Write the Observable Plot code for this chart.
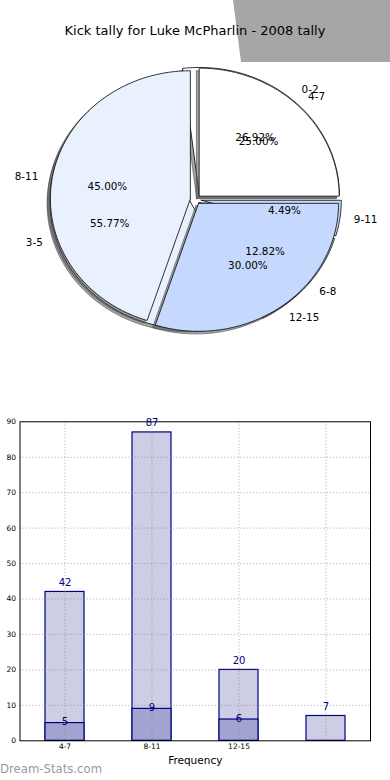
<!DOCTYPE html>
<html><head><meta charset="utf-8">
<script src="https://cdn.jsdelivr.net/npm/d3@7"></script>
<script src="https://cdn.jsdelivr.net/npm/@observablehq/plot@0.6"></script>
<style>
html,body{margin:0;padding:0;background:#fff;}
#root{position:relative;width:390px;height:780px;overflow:hidden;font-family:"DejaVu Sans",sans-serif;}
#banner{position:absolute;left:0;top:0;width:390px;height:62px;background:#a6a6a6;clip-path:polygon(233px 0,390px 0,390px 62px,241px 62px);}
#title{position:absolute;left:0;top:22.5px;width:390px;text-align:center;font-size:13px;line-height:15px;color:#000;}
#pie{position:absolute;left:0;top:0;}
#bars{position:absolute;left:0;top:400px;}
#wm{position:absolute;left:0;top:761px;font-size:11.7px;line-height:16px;color:#9a9a9a;}
</style>
</head><body>
<div id="root">
  <div id="banner"></div>
  <div id="pie"></div>
  <div id="title">Kick tally for Luke McPharlin - 2008 tally</div>
  <div id="bars"></div>
  <div id="wm">Dream-Stats.com</div>
</div>
<script>
// ---- data ----
const title = "Kick tally for Luke McPharlin - 2008 tally";
const pieALabels = ["0-2", "3-5", "6-8", "9-11"];
const kicksAll = [42, 87, 20, 7];
const pieBLabels = ["4-7", "8-11", "12-15"];
const kicksSub = [5, 9, 6];
const barTickLabels = ["4-7", "8-11", "12-15"];
const yTicks = [0, 10, 20, 30, 40, 50, 60, 70, 80, 90];

// ---- styles ----
const wedgeColors = ["#ffffff", "#eaf1fe", "#c5d8fd", "#c5d8fd"];
const explodeA = 0.042, explodeB = 0.037;
const font = {fontFamily: "DejaVu Sans", fontSize: 10.4, fill: "#000"};

function wedges(labels, values, explode) {
  const total = d3.sum(values);
  let start = 0;
  return labels.map((label, i) => {
    const a0 = start, a1 = start + 360 * values[i] / total;
    start = a1;
    const mid = (a0 + a1) / 2 * Math.PI / 180;
    const cx = explode * Math.cos(mid), cy = explode * Math.sin(mid);
    const pts = [{x: cx, y: cy}];
    const n = Math.max(2, Math.ceil(a1 - a0));
    for (let k = 0; k <= n; k++) {
      const a = (a0 + (a1 - a0) * k / n) * Math.PI / 180;
      pts.push({x: cx + Math.cos(a), y: cy + Math.sin(a)});
    }
    pts.push({x: cx, y: cy});
    return {label, value: values[i], pct: values[i] / total, pts, cx, cy, mid, fill: wedgeColors[i % wedgeColors.length]};
  });
}

const wA = wedges(pieALabels, kicksAll, explodeA);
const wB = wedges(pieBLabels, kicksSub, explodeB);

function pieMarks(ws) {
  return [
    ...ws.map(w => Plot.line(w.pts, {x: d => d.x - 0.02, y: d => d.y - 0.02, fill: "#4d4d4d", fillOpacity: 0.5, stroke: "#4d4d4d", strokeOpacity: 0.6, strokeWidth: 1})),
    ...ws.map(w => Plot.line(w.pts, {x: "x", y: "y", fill: w.fill, stroke: "#000", strokeWidth: 0.8, strokeLinejoin: "miter"}))
  ];
}
function labelMarks(ws) {
  const lab = ws.map(w => ({text: w.label, x: w.cx + 1.1 * Math.cos(w.mid), y: w.cy + 1.1 * Math.sin(w.mid), right: Math.cos(w.mid) > 0}));
  const pct = ws.map(w => ({text: (w.pct * 100).toFixed(2) + "%", x: w.cx + 0.6 * Math.cos(w.mid), y: w.cy + 0.6 * Math.sin(w.mid)}));
  return [
    Plot.text(lab.filter(d => d.right), {x: "x", y: "y", text: "text", textAnchor: "start", lineAnchor: "middle", ...font}),
    Plot.text(lab.filter(d => !d.right), {x: "x", y: "y", text: "text", textAnchor: "end", lineAnchor: "middle", ...font}),
    Plot.text(pct, {x: "x", y: "y", text: "text", textAnchor: "middle", lineAnchor: "middle", ...font})
  ];
}

const cxPx = 195, cyPx = 199, rxPx = 140, ryPx = 128, pieW = 390, pieH = 400;
const pie = Plot.plot({
  width: pieW, height: pieH, margin: 0,
  x: {domain: [-cxPx / rxPx, (pieW - cxPx) / rxPx], range: [0, pieW], axis: null},
  y: {domain: [(cyPx - pieH) / ryPx, cyPx / ryPx], range: [pieH, 0], axis: null},
  style: {background: "transparent", fontFamily: "DejaVu Sans"},
  marks: [...pieMarks(wA), ...pieMarks(wB), ...labelMarks(wA), ...labelMarks(wB)]
});
document.getElementById("pie").appendChild(pie);

// ---- bars ----
const barAll = kicksAll.map((v, i) => ({i, v}));
const barSub = kicksSub.map((v, i) => ({i, v}));
const bars = Plot.plot({
  width: 390, height: 380,
  marginTop: 21.3, marginBottom: 39.7, marginLeft: 19.5, marginRight: 20,
  x: {type: "band", domain: d3.range(kicksAll.length), paddingInner: 0.55, paddingOuter: 0.275},
  y: {domain: [0, 90]},
  style: {background: "transparent", fontFamily: "DejaVu Sans"},
  marks: [
    Plot.barY(barAll, {x: "i", y: "v", fill: "#cdcde5", stroke: "#000080", strokeWidth: 1.2}),
    Plot.barY(barSub, {x: "i", y: "v", fill: "#a3a3d0", stroke: "#000080", strokeWidth: 1.2}),
    Plot.gridX({stroke: "#888", strokeOpacity: 0.6, strokeDasharray: "1.2,2"}),
    Plot.gridY(yTicks.slice(1, -1), {stroke: "#888", strokeOpacity: 0.6, strokeDasharray: "1.2,2"}),
    Plot.text(barAll, {x: "i", y: "v", text: d => String(d.v), dy: -9.5, lineAnchor: "middle", fill: "#000080", fontSize: 10}),
    Plot.text(barSub, {x: "i", y: "v", text: d => String(d.v), dy: -1, lineAnchor: "middle", fill: "#000080", fontSize: 10}),
    Plot.axisY(yTicks, {tickSize: 0, tickPadding: 4, label: null, fontSize: 7.5}),
    Plot.axisX({tickSize: 0, tickPadding: 3, label: null, fontSize: 7.5, tickFormat: i => barTickLabels[i] ?? ""}),
    Plot.frame({stroke: "#000", strokeWidth: 1}),
    Plot.text(["Frequency"], {frameAnchor: "bottom", dy: 20, lineAnchor: "middle", fontSize: 10.5, fill: "#000"})
  ]
});
document.getElementById("bars").appendChild(bars);
</script>
</body></html>
